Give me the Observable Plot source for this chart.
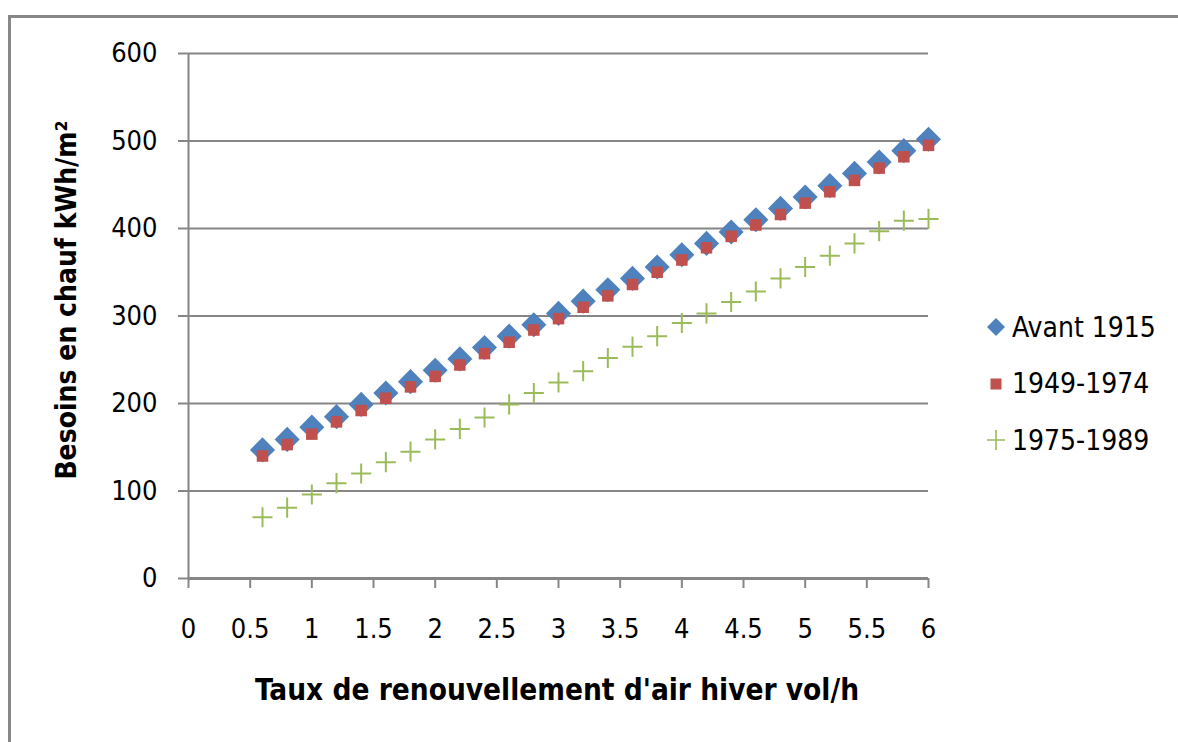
<!DOCTYPE html>
<html>
<head>
<meta charset="utf-8">
<script src="https://cdn.jsdelivr.net/npm/d3@7"></script>
<script src="https://cdn.jsdelivr.net/npm/@observablehq/plot@0.6"></script>
<style>
  html, body { margin: 0; padding: 0; background: #fff; }
  #wrap { position: relative; width: 1178px; height: 742px; overflow: hidden; background: #fff; }
  #frame { position: absolute; left: 8px; top: 15px; width: 1300px; height: 900px;
           border-left: 3px solid #888; border-top: 3px solid #888; }
  #chart { position: absolute; left: 0; top: 0; }
  .title { position: absolute; white-space: nowrap; font-family: "DejaVu Sans Condensed", "DejaVu Sans", sans-serif;
           font-stretch: condensed; font-weight: bold; color: #000; }
  #ytitle { left: 66px; top: 300px; font-size: 28px; transform: translate(-50%, -50%) rotate(-90deg); }
  #xtitle { left: 557px; top: 690px; font-size: 29.5px; transform: translate(-50%, -50%); }
  #legend { position: absolute; left: 984px; top: 299px; font-family: "DejaVu Sans Condensed", "DejaVu Sans", sans-serif;
            font-stretch: condensed; font-size: 28px; color: #000; white-space: nowrap; }
  .row { display: flex; align-items: center; height: 56.5px; }
  .row svg { width: 24px; height: 24px; margin-right: 4px; flex: none; }
</style>
</head>
<body>
<div id="wrap">
  <div id="frame"></div>
  <div id="chart"></div>
  <div class="title" id="ytitle">Besoins en chauf kWh/m²</div>
  <div class="title" id="xtitle">Taux de renouvellement d'air hiver vol/h</div>
  <div id="legend"></div>
</div>
<script>
// ---- data ----
const rates = [0.6, 0.8, 1.0, 1.2, 1.4, 1.6, 1.8, 2.0, 2.2, 2.4, 2.6, 2.8, 3.0, 3.2,
               3.4, 3.6, 3.8, 4.0, 4.2, 4.4, 4.6, 4.8, 5.0, 5.2, 5.4, 5.6, 5.8, 6.0];
const avant1915 = [147, 159, 173, 185, 199, 212, 225, 238, 251, 264, 277, 290, 303, 317,
                   330, 343, 356, 370, 383, 396, 410, 423, 436, 449, 463, 476, 489, 502];
const p1949_1974 = [140, 153, 165, 179, 192, 206, 219, 231, 244, 257, 270, 284, 297, 310,
                    323, 336, 350, 364, 378, 391, 404, 416, 429, 442, 455, 469, 482, 495];
const p1975_1989 = [70, 81, 96, 109, 120, 133, 145, 159, 171, 184, 199, 212, 224, 237,
                    252, 265, 277, 292, 303, 316, 328, 343, 356, 369, 383, 397, 409, 411];
const seriesNames = ["Avant 1915", "1949-1974", "1975-1989"];
const seriesColors = ["#4F81BD", "#C0504D", "#9BBB59"];
const xTicks = [0, 0.5, 1, 1.5, 2, 2.5, 3, 3.5, 4, 4.5, 5, 5.5, 6];
const yTicks = [0, 100, 200, 300, 400, 500, 600];

const rows = (vals) => rates.map((x, i) => ({x, y: vals[i]}));
const d1 = rows(avant1915), d2 = rows(p1949_1974), d3r = rows(p1975_1989);

const tickFont = '"DejaVu Sans Condensed", "DejaVu Sans", sans-serif';
const grid = "#868686";

const chart = Plot.plot({
  width: 1178, height: 742,
  marginLeft: 188, marginRight: 250, marginTop: 53, marginBottom: 164,
  style: {fontFamily: tickFont, fontStretch: "condensed", background: "transparent", color: "#000"},
  x: {domain: [0, 6]},
  y: {domain: [0, 600]},
  marks: [
    Plot.ruleY(yTicks.filter(d => d > 0), {stroke: grid, strokeWidth: 2}),
    Plot.axisY({ticks: yTicks, tickSize: 10, tickPadding: 21, stroke: grid, strokeWidth: 2,
                fill: "#000", fontSize: 27, label: null}),
    Plot.axisX({ticks: xTicks, tickSize: 10, tickPadding: 30, stroke: grid, strokeWidth: 2,
                fill: "#000", fontSize: 27, label: null, tickFormat: d => String(d)}),
    Plot.ruleX([0], {stroke: grid, strokeWidth: 2}),
    Plot.ruleY([0], {stroke: grid, strokeWidth: 3}),
    Plot.dot(d1, {x: "x", y: "y", symbol: "diamond2", fill: seriesColors[0], stroke: "none", r: 11.3}),
    Plot.dot(d2, {x: "x", y: "y", symbol: "square", fill: seriesColors[1], stroke: "none", r: 6.5}),
    Plot.dot(d3r, {x: "x", y: "y", symbol: "plus", fill: "none", stroke: seriesColors[2], strokeWidth: 2, r: 6.5})
  ]
});
document.getElementById("chart").appendChild(chart);

// ---- legend ----
const symbols = [
  `<path d="M12,3L21,12L12,21L3,12Z" fill="${seriesColors[0]}"/>`,
  `<rect x="6.5" y="6.5" width="11" height="11" fill="${seriesColors[1]}"/>`,
  `<path d="M3,12H21M12,2V22" stroke="${seriesColors[2]}" stroke-width="1.6" fill="none"/>`
];
const legend = document.getElementById("legend");
seriesNames.forEach((name, i) => {
  const row = document.createElement("div");
  row.className = "row";
  row.innerHTML = `<svg viewBox="0 0 24 24">${symbols[i]}</svg><span>${name}</span>`;
  legend.appendChild(row);
});
</script>
</body>
</html>
